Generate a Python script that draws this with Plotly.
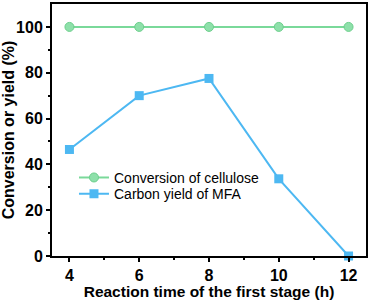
import plotly.graph_objects as go

time_h = [4, 6, 8, 10, 12]
conversion = [100, 100, 100, 100, 100]
mfa_yield = [46.5, 70, 77.5, 33.7, 0]

fig = go.Figure()
fig.add_trace(go.Scatter(
    x=time_h, y=conversion, mode="lines+markers", name="Conversion of cellulose",
    line=dict(color="#7AD99A", width=2),
    marker=dict(symbol="circle", size=9, color="#8EE0AA", line=dict(color="#6CCF8C", width=1)),
    cliponaxis=False, legend="legend",
))
fig.add_trace(go.Scatter(
    x=time_h, y=mfa_yield, mode="lines+markers", name="Carbon yield of MFA",
    line=dict(color="#4DB8F2", width=2),
    marker=dict(symbol="square", size=9, color="#4DB8F2"),
    cliponaxis=False, legend="legend2",
))

axis_common = dict(
    showline=True, linecolor="black", linewidth=2, mirror=True,
    showgrid=False, zeroline=False,
    ticks="outside", tickwidth=2, ticklen=4, tickcolor="black",
    tickfont=dict(family="Liberation Sans, Arial", size=16, color="black", weight="bold"),
)
fig.update_xaxes(
    range=[3.5, 12.5], tickvals=[4, 6, 8, 10, 12],
    minor=dict(tickvals=[5, 7, 9, 11], ticks="outside", ticklen=2, tickwidth=2, tickcolor="black"),
    title=dict(text="Reaction time of the first stage (h)", standoff=3,
               font=dict(family="Liberation Sans, Arial", size=15.5, color="black", weight="bold")),
    **axis_common,
)
fig.update_yaxes(
    range=[0, 110], tickvals=[0, 20, 40, 60, 80, 100],
    minor=dict(tickvals=[10, 30, 50, 70, 90], ticks="outside", ticklen=2, tickwidth=2, tickcolor="black"),
    title=dict(text="Conversion or yield (%)", standoff=1,
               font=dict(family="Liberation Sans, Arial", size=16, color="black", weight="bold")),
    **axis_common,
)
leg_font = dict(family="Liberation Sans, Arial", size=14, color="black")
fig.update_layout(
    width=370, height=300,
    margin=dict(l=52, r=2, t=2, b=44),
    plot_bgcolor="white", paper_bgcolor="white",
    legend=dict(x=0.07, y=0.31, xanchor="left", yanchor="middle",
                bgcolor="rgba(0,0,0,0)", font=leg_font),
    legend2=dict(x=0.07, y=0.245, xanchor="left", yanchor="middle",
                 bgcolor="rgba(0,0,0,0)", font=leg_font),
    showlegend=True,
)
fig.write_html("out.html", config={"displayModeBar": False},
               post_script="document.body.style.margin='0';")
